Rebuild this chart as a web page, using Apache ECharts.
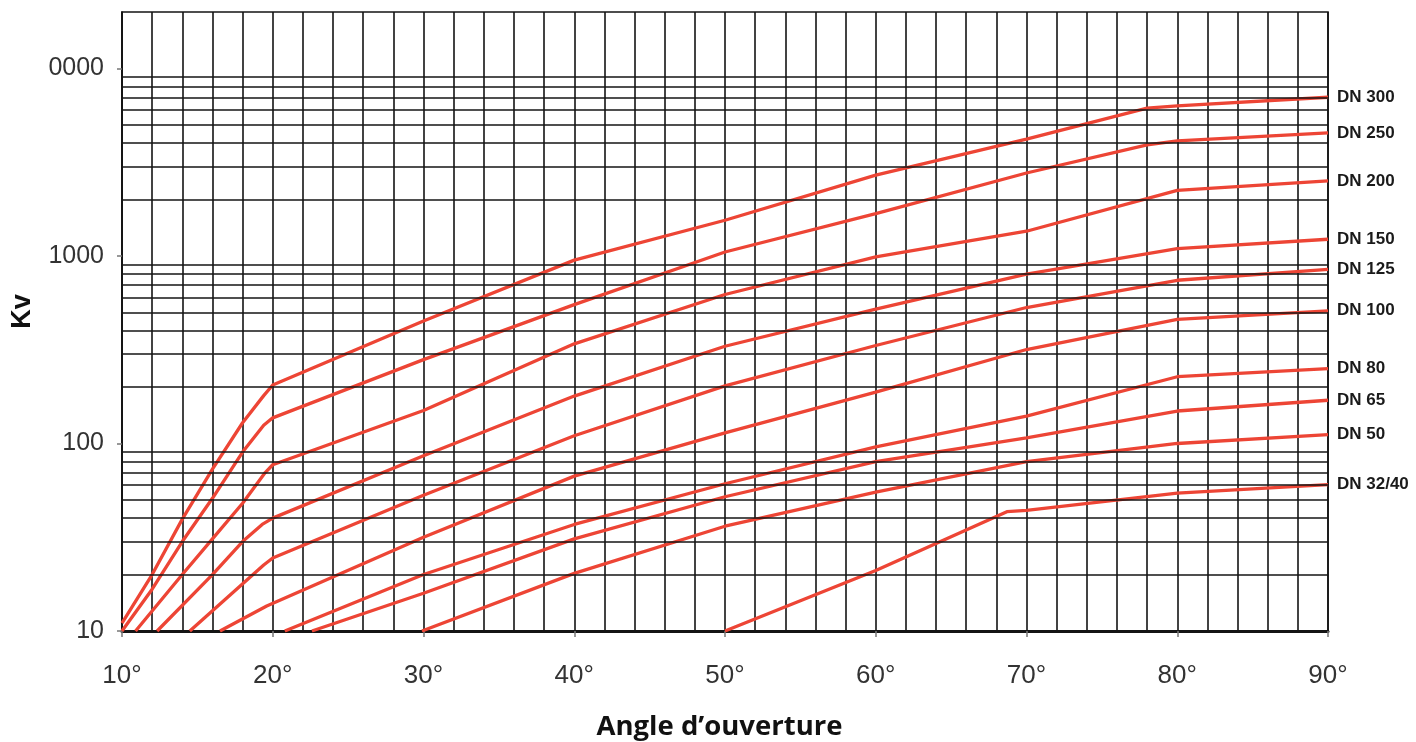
<!DOCTYPE html>
<html>
<head>
<meta charset="utf-8">
<title>Kv - Angle d'ouverture</title>
<script src="https://cdn.jsdelivr.net/npm/echarts@6/dist/echarts.min.js"></script>
<style>
html, body { margin: 0; padding: 0; background: #fff; }
#chart { width: 1416px; height: 742px; }
</style>
</head>
<body>
<div id="chart"></div>
<script>
// Kv par diamètre nominal, [angle en degrés, Kv]
var dn300 = [[10, 11], [12, 20], [14, 39.5], [16, 73], [18, 129], [19.4, 180], [20, 205], [30, 450], [40, 950], [50, 1550], [60, 2700], [70, 4200], [78, 6140], [80, 6310], [90, 7020]];
var dn250 = [[10, 10], [12, 16.7], [14, 30], [16, 51], [18, 90], [19.4, 125], [20, 137], [30, 280], [40, 550], [50, 1050], [60, 1680], [70, 2770], [78, 3910], [80, 4110], [90, 4530]];
var dn200 = [[10.9, 10], [14, 20], [16, 31], [18, 48], [19.5, 70], [20, 77], [30, 150], [40, 340], [50, 623], [60, 990], [70, 1355], [80, 2240], [90, 2515]];
var dn150 = [[12.33, 10], [16, 20], [18, 30], [19.3, 37], [20, 40], [30, 86], [40, 179], [50, 330], [60, 520], [70, 800], [80, 1094], [90, 1228]];
var dn125 = [[14.5, 10], [19.4, 22.5], [20, 24.5], [30, 53], [40, 110], [50, 203], [60, 333], [70, 531], [80, 742], [90, 848]];
var dn100 = [[16.5, 10], [19.6, 13.6], [30, 31.6], [40, 67], [50, 114], [60, 188], [70, 317], [80, 459], [90, 510]];
var dn80 = [[20.8, 10], [30, 20], [40, 37], [50, 61], [60, 96], [70, 140], [80, 227], [90, 251]];
var dn65 = [[22.6, 10], [30, 15.9], [40, 31], [50, 52], [60, 80], [70, 107], [80, 149], [90, 170]];
var dn50 = [[29.9, 10], [40, 20.3], [50, 36.2], [60, 55], [70, 80], [80, 100], [90, 111.5]];
var dn32 = [[50, 10], [60, 21], [68.7, 43.3], [70, 44], [80, 54.4], [90, 60.4]];

var seriesNames = ['DN 300', 'DN 250', 'DN 200', 'DN 150', 'DN 125', 'DN 100', 'DN 80', 'DN 65', 'DN 50', 'DN 32/40'];
var seriesData = [dn300, dn250, dn200, dn150, dn125, dn100, dn80, dn65, dn50, dn32];

// graduations de l'axe Kv
var yTickValues = [10, 100, 1000, 10000];
var yTickLabels = ['10', '100', '1000', '0000'];
var gridValues = [20, 30, 40, 50, 60, 70, 80, 90,
                  200, 300, 400, 500, 600, 700, 800, 900,
                  2000, 3000, 4000, 5000, 6000, 7000, 8000, 9000];

var RED = '#ed4535';
var INK = '#141414';

var chart = echarts.init(document.getElementById('chart'));

var series = seriesNames.map(function (name, i) {
  return {
    name: name,
    type: 'line',
    data: seriesData[i],
    showSymbol: false,
    z: 3,
    lineStyle: { color: RED, width: 3.3 },
    endLabel: {
      show: true,
      formatter: '{a}',
      distance: 9,
      color: '#1a1a1a',
      fontFamily: 'Liberation Sans, Arial, sans-serif',
      fontWeight: 'bold',
      fontSize: 17
    }
  };
});

// lignes horizontales de la grille logarithmique
series.push({
  name: 'grille',
  type: 'line',
  data: [],
  z: 1,
  markLine: {
    silent: true,
    symbol: 'none',
    label: { show: false },
    lineStyle: { color: INK, width: 1.6, type: 'solid' },
    data: gridValues.map(function (v) { return { yAxis: v }; })
  }
});

chart.setOption({
  animation: false,
  backgroundColor: '#fff',
  grid: {
    left: 122, right: 88, top: 12, bottom: 111,
    containLabel: false,
    outerBoundsMode: 'none',
    show: true,
    borderColor: INK,
    borderWidth: 1.6
  },
  xAxis: {
    type: 'value',
    min: 10, max: 90, interval: 10,
    name: 'Angle d’ouverture',
    nameLocation: 'middle',
    nameGap: 82,
    nameTextStyle: { fontFamily: 'Open Sans', fontWeight: 'bold', fontSize: 27.5, color: '#111', padding: [0, 11, 0, 0] },
    axisLine: { show: true, onZero: false, lineStyle: { color: INK, width: 3 } },
    axisTick: { show: true, length: 6, lineStyle: { color: '#777', width: 1.5 } },
    axisLabel: {
      margin: 32,
      fontSize: 26,
      color: '#333',
      fontFamily: 'Liberation Sans, Arial, sans-serif',
      formatter: function (v) { return v + '°'; }
    },
    splitLine: { show: true, lineStyle: { color: INK, width: 1.6 } },
    minorTick: { show: false, splitNumber: 5 },
    minorSplitLine: { show: true, lineStyle: { color: INK, width: 1.6 } }
  },
  yAxis: {
    type: 'log',
    logBase: 10,
    min: 10, max: 20000,
    name: 'Kv',
    nameLocation: 'middle',
    nameRotate: 90,
    nameGap: 86,
    nameTextStyle: { fontFamily: 'Liberation Sans, Arial, sans-serif', fontWeight: 'bold', fontSize: 27, color: '#111', padding: [0, 0, 0, 20] },
    axisLine: { show: true, lineStyle: { color: INK, width: 1.6 } },
    axisTick: { show: true, length: 5, customValues: yTickValues, lineStyle: { color: '#777', width: 1.5 } },
    axisLabel: {
      customValues: yTickValues,
      margin: 18,
      fontSize: 25,
      color: '#333',
      fontFamily: 'Liberation Sans, Arial, sans-serif',
      formatter: function (v) {
        var k = yTickValues.indexOf(Math.round(v));
        return k >= 0 ? yTickLabels[k] : '';
      }
    },
    splitLine: { show: false }
  },
  series: series
});
</script>
</body>
</html>
